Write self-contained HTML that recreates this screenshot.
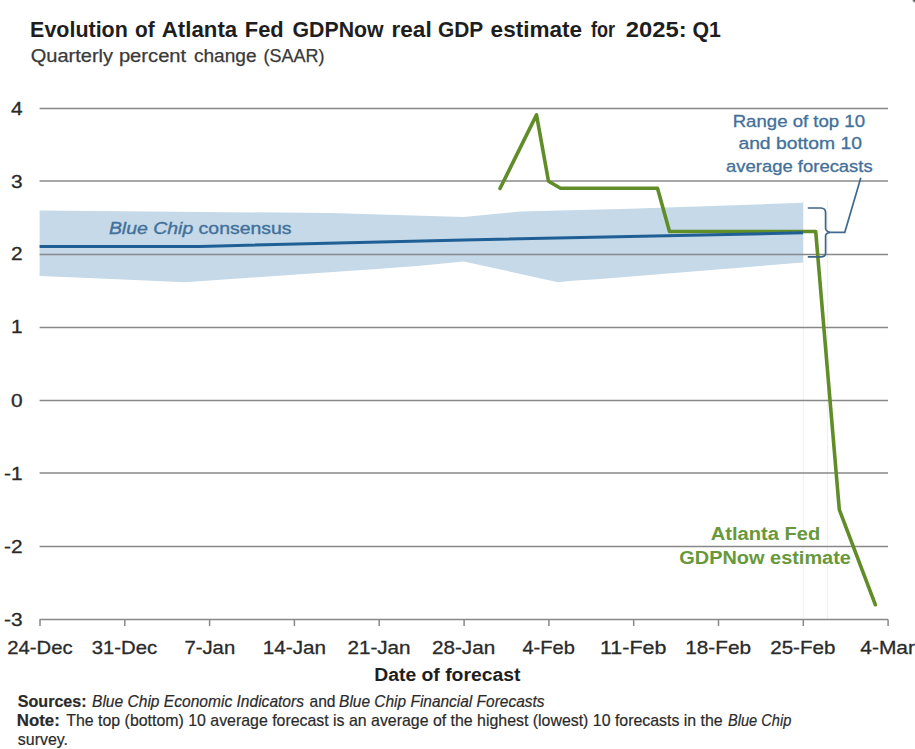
<!DOCTYPE html>
<html>
<head>
<meta charset="utf-8">
<style>
html,body{margin:0;padding:0;background:#fff;}
body{width:915px;height:749px;overflow:hidden;}
svg{display:block;font-family:"Liberation Sans",Arial,sans-serif;}
</style>
</head>
<body>
<svg width="915" height="749" viewBox="0 0 915 749">
<rect x="0" y="0" width="915" height="749" fill="#fff"/>

<!-- title -->
<g font-size="22" font-weight="bold" fill="#1e1e1e">
<text id="t0" x="30.1" y="37.3" textLength="97.7" lengthAdjust="spacingAndGlyphs">Evolution</text>
<text id="t1" x="134.9" y="37.3" textLength="19.7" lengthAdjust="spacingAndGlyphs">of</text>
<text id="t2" x="161.8" y="37.3" textLength="75.4" lengthAdjust="spacingAndGlyphs">Atlanta</text>
<text id="t3" x="244.8" y="37.3" textLength="38.9" lengthAdjust="spacingAndGlyphs">Fed</text>
<text id="t4" x="292.5" y="37.3" textLength="91.1" lengthAdjust="spacingAndGlyphs">GDPNow</text>
<text id="t5" x="391.5" y="37.3" textLength="40.2" lengthAdjust="spacingAndGlyphs">real</text>
<text id="t6" x="438.0" y="37.3" textLength="45.2" lengthAdjust="spacingAndGlyphs">GDP</text>
<text id="t7" x="490.6" y="37.3" textLength="91.5" lengthAdjust="spacingAndGlyphs">estimate</text>
<text id="t8" x="590.9" y="37.3" textLength="24.1" lengthAdjust="spacingAndGlyphs">for</text>
<text id="t9" x="625.8" y="37.3" textLength="60.8" lengthAdjust="spacingAndGlyphs">2025:</text>
<text id="t10" x="692.4" y="37.3" textLength="28.4" lengthAdjust="spacingAndGlyphs">Q1</text>
</g>
<g font-size="17.5" fill="#3a3a3a" stroke="#3a3a3a" stroke-width="0.25">
<text id="s0" x="30.7" y="61.9" textLength="82.4" lengthAdjust="spacingAndGlyphs">Quarterly</text>
<text id="s1" x="118.9" y="61.9" textLength="67.3" lengthAdjust="spacingAndGlyphs">percent</text>
<text id="s2" x="193.9" y="61.9" textLength="62.7" lengthAdjust="spacingAndGlyphs">change</text>
<text id="s3" x="263.6" y="61.9" textLength="61.0" lengthAdjust="spacingAndGlyphs">(SAAR)</text>
</g>

<!-- faint vertical lines -->
<line x1="803.3" y1="200" x2="803.3" y2="619" stroke="#f0f0f0" stroke-width="1"/>
<line x1="827.5" y1="200" x2="827.5" y2="619" stroke="#f0f0f0" stroke-width="1"/>

<!-- band -->
<polygon points="39.6,210.6 330,213 463.5,217 520,211.5 630,208.8 803,202.8 803,262.5 600,279 572,280.8 558,282.2 463.6,261.4 420,265.7 377,269 311,273.6 185,282.2 100,278.6 39.6,276" fill="#c5d9e8"/>

<!-- gridlines -->
<g stroke="#888" stroke-width="1.5">
<line x1="39.6" y1="108.4" x2="888" y2="108.4"/>
<line x1="39.6" y1="181" x2="888" y2="181"/>
<line x1="39.6" y1="254.6" x2="888" y2="254.6"/>
<line x1="39.6" y1="327.6" x2="888" y2="327.6"/>
<line x1="39.6" y1="400.4" x2="888" y2="400.4"/>
<line x1="39.6" y1="473" x2="888" y2="473"/>
<line x1="39.6" y1="546.4" x2="888" y2="546.4"/>
<line x1="39.6" y1="619.4" x2="888" y2="619.4"/>
</g>
<!-- ticks -->
<g stroke="#888" stroke-width="1.5">
<line x1="40.0" y1="619.4" x2="40.0" y2="626"/>
<line x1="124.8" y1="619.4" x2="124.8" y2="626"/>
<line x1="209.6" y1="619.4" x2="209.6" y2="626"/>
<line x1="294.4" y1="619.4" x2="294.4" y2="626"/>
<line x1="379.2" y1="619.4" x2="379.2" y2="626"/>
<line x1="464.1" y1="619.4" x2="464.1" y2="626"/>
<line x1="548.9" y1="619.4" x2="548.9" y2="626"/>
<line x1="633.7" y1="619.4" x2="633.7" y2="626"/>
<line x1="718.5" y1="619.4" x2="718.5" y2="626"/>
<line x1="803.3" y1="619.4" x2="803.3" y2="626"/>
<line x1="888.1" y1="619.4" x2="888.1" y2="626"/>
</g>

<!-- y labels -->
<g font-size="18" fill="#2a2a2a" stroke="#2a2a2a" stroke-width="0.3" text-anchor="end">
<text transform="translate(22.5 114.5) scale(1.16 1)">4</text>
<text transform="translate(22.5 187.5) scale(1.16 1)">3</text>
<text transform="translate(22.5 260.3) scale(1.16 1)">2</text>
<text transform="translate(22.5 333.3) scale(1.16 1)">1</text>
<text transform="translate(22.5 407) scale(1.16 1)">0</text>
<text transform="translate(22.5 479.5) scale(1.16 1)">-1</text>
<text transform="translate(22.5 553) scale(1.16 1)">-2</text>
<text transform="translate(22.5 625.5) scale(1.16 1)">-3</text>
</g>

<!-- x labels -->
<g font-size="19" fill="#2a2a2a" stroke="#2a2a2a" stroke-width="0.3">
<text id="x0" x="7.2" y="653.9" textLength="65.4" lengthAdjust="spacingAndGlyphs">24-Dec</text>
<text id="x1" x="91.8" y="653.9" textLength="65.4" lengthAdjust="spacingAndGlyphs">31-Dec</text>
<text id="x2" x="184.4" y="653.9" textLength="50.8" lengthAdjust="spacingAndGlyphs">7-Jan</text>
<text id="x3" x="262.8" y="653.9" textLength="63.2" lengthAdjust="spacingAndGlyphs">14-Jan</text>
<text id="x4" x="347.4" y="653.9" textLength="63.2" lengthAdjust="spacingAndGlyphs">21-Jan</text>
<text id="x5" x="432.0" y="653.9" textLength="63.2" lengthAdjust="spacingAndGlyphs">28-Jan</text>
<text id="x6" x="522.4" y="653.9" textLength="52.4" lengthAdjust="spacingAndGlyphs">4-Feb</text>
<text id="x7" x="600.0" y="653.9" textLength="66.4" lengthAdjust="spacingAndGlyphs">11-Feb</text>
<text id="x8" x="685.2" y="653.9" textLength="65.8" lengthAdjust="spacingAndGlyphs">18-Feb</text>
<text id="x9" x="770.2" y="653.9" textLength="65.2" lengthAdjust="spacingAndGlyphs">25-Feb</text>
<text id="x10" x="860.3" y="653.9" textLength="54.7" lengthAdjust="spacingAndGlyphs">4-Mar</text>
</g>
<text id="d0" x="374.2" y="681" font-size="17.5" font-weight="bold" fill="#1e1e1e" textLength="146.3" lengthAdjust="spacingAndGlyphs">Date of forecast</text>

<!-- green GDPNow line -->
<polyline points="500,188.5 536.5,114.9 548.5,181.3 560.5,188.2 657.5,188.2 669.5,231.5 815.7,231.5 839.3,509.7 875.3,604.7" fill="none" stroke="#608d27" stroke-width="3.6" stroke-linejoin="round" stroke-linecap="round"/>

<!-- blue consensus line -->
<polyline points="39.6,246.6 200,246.4 464,240 803,232.8" fill="none" stroke="#1f5f96" stroke-width="3"/>
<text id="bc" x="108.9" y="234" font-size="17" fill="#41709a" stroke="#41709a" stroke-width="0.35" textLength="182.7" lengthAdjust="spacingAndGlyphs"><tspan font-style="italic">Blue Chip</tspan> consensus</text>

<!-- bracket annotation -->
<path d="M807.8,208 L821,208 Q825.6,208.3 825.6,212.5 L825.6,228.5 Q826,231.8 830.8,232.3 Q826,232.8 825.6,235.5 L825.6,253 Q825.6,256.8 821,256.8 L807.8,256.8" fill="none" stroke="#3d6588" stroke-width="1.7"/>
<polyline points="830.8,232.3 844.8,232.3 860.8,177.8" fill="none" stroke="#3f6a90" stroke-width="1.7"/>

<g font-size="16.3" fill="#42709a" stroke="#42709a" stroke-width="0.3">
<text id="a0" x="732.7" y="127.4" textLength="132.3" lengthAdjust="spacingAndGlyphs">Range of top 10</text>
<text id="a1" x="738.4" y="149.4" textLength="123.5" lengthAdjust="spacingAndGlyphs">and bottom 10</text>
<text id="a2" x="726.1" y="171.6" textLength="146.6" lengthAdjust="spacingAndGlyphs">average forecasts</text>
</g>

<g font-size="18" font-weight="bold" fill="#68983a">
<text id="g0" x="710.7" y="540.2" textLength="109.6" lengthAdjust="spacingAndGlyphs">Atlanta Fed</text>
<text id="g1" x="679.3" y="564.3" textLength="171.6" lengthAdjust="spacingAndGlyphs">GDPNow estimate</text>
</g>

<!-- footer -->
<g font-size="16.6" fill="#2a2a2a" stroke="#2a2a2a" stroke-width="0.2">
<text id="f0" x="17.8" y="706.6" font-weight="bold" textLength="68.8" lengthAdjust="spacingAndGlyphs">Sources:</text>
<text id="f1" x="92.0" y="706.6" font-style="italic" textLength="212.0" lengthAdjust="spacingAndGlyphs">Blue Chip Economic Indicators</text>
<text id="f2" x="309.5" y="706.6" textLength="26.0" lengthAdjust="spacingAndGlyphs">and</text>
<text id="f3" x="339.1" y="706.6" font-style="italic" textLength="205.4" lengthAdjust="spacingAndGlyphs">Blue Chip Financial Forecasts</text>
<text id="f4" x="16.8" y="726.3" font-weight="bold" textLength="43.0" lengthAdjust="spacingAndGlyphs">Note:</text>
<text id="f5" x="66.3" y="726.3" textLength="656.4" lengthAdjust="spacingAndGlyphs">The top (bottom) 10 average forecast is an average of the highest (lowest) 10 forecasts in the</text>
<text id="f6" x="727.9" y="726.3" font-style="italic" textLength="63.4" lengthAdjust="spacingAndGlyphs">Blue Chip</text>
<text id="f7" x="17.8" y="745.3" textLength="50.2" lengthAdjust="spacingAndGlyphs">survey.</text>
</g>

<!-- corner mark -->
<defs><radialGradient id="cm" cx="0.5" cy="0.5" r="0.5"><stop offset="0" stop-color="#222"/><stop offset="0.5" stop-color="#555" stop-opacity="0.8"/><stop offset="1" stop-color="#fff" stop-opacity="0"/></radialGradient></defs>
<circle cx="915.5" cy="-0.5" r="4.5" fill="url(#cm)"/>
</svg>
</body>
</html>
